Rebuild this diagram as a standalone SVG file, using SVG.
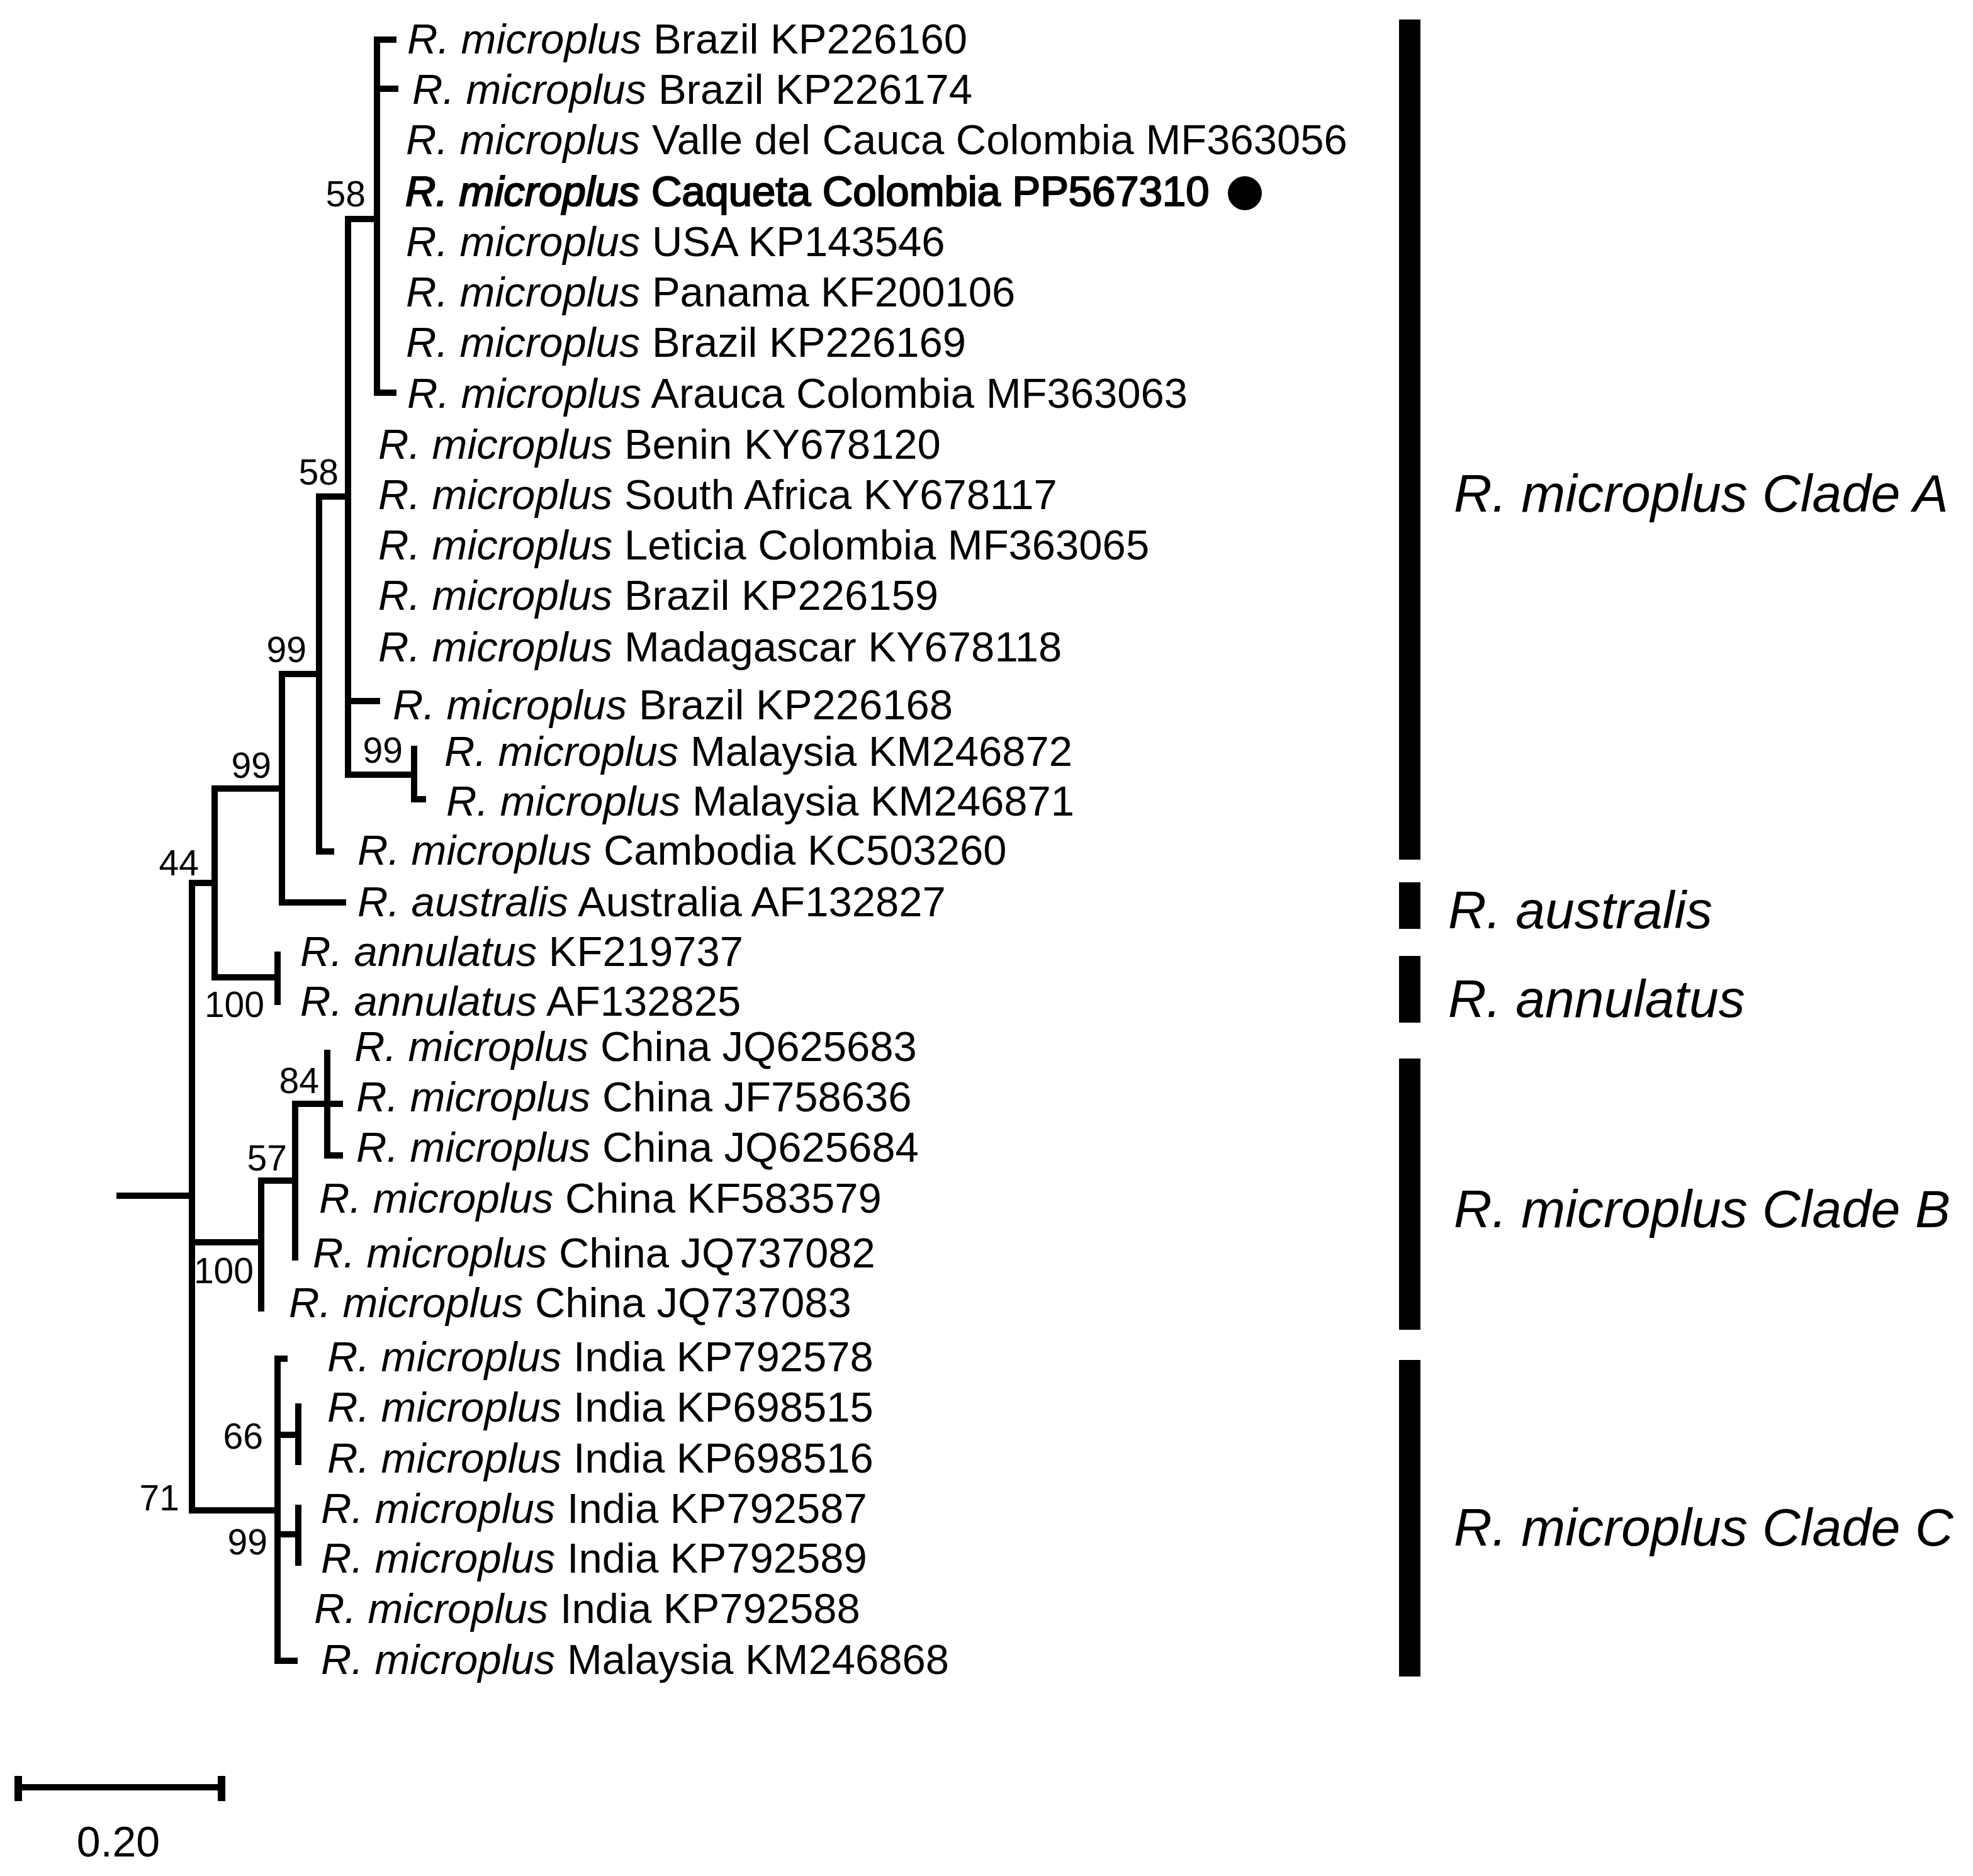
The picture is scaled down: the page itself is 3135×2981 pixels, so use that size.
<svg xmlns="http://www.w3.org/2000/svg" width="3135" height="2981" viewBox="0 0 3135 2981">
<style>
.br{stroke:#000;stroke-width:10;fill:none;stroke-linecap:square;stroke-linejoin:miter}
.leaf{font-family:"Liberation Sans",Arial,sans-serif;font-size:67px;fill:#000}
.sp{font-style:italic}
.bs{font-family:"Liberation Sans",Arial,sans-serif;font-size:57px;fill:#000;text-anchor:end}
.clade{font-family:"Liberation Sans",Arial,sans-serif;font-size:84px;font-style:italic;fill:#000}
.bar{fill:#000}
</style>
<rect width="3135" height="2981" fill="#fff"/>
<g id="connectors">
<path class="br" d="M599 63 V624 M599 63 H625 M599 141 H628 M599 624 H625"/>
<path class="br" d="M553 348 H599"/>
<path class="br" d="M553 348 V1231 M553 1114 H599 M553 1231 H656 M658 1190 V1270 H672"/>
<path class="br" d="M507 789 H553"/>
<path class="br" d="M507 789 V1353 H526"/>
<path class="br" d="M448 1071 H507"/>
<path class="br" d="M448 1071 V1434 H545"/>
<path class="br" d="M341 1253 H448"/>
<path class="br" d="M341 1253 V1553 H441"/>
<path class="br" d="M441 1517 V1592"/>
<path class="br" d="M305 1403 H341"/>
<path class="br" d="M305 1403 V2400"/>
<path class="br" d="M190 1900 H305"/>
<path class="br" d="M305 1974 H415"/>
<path class="br" d="M415 1878 V2079"/>
<path class="br" d="M415 1876 H469"/>
<path class="br" d="M469 1754 V1998"/>
<path class="br" d="M469 1754 H540"/>
<path class="br" d="M520 1673 V1836 H540"/>
<path class="br" d="M305 2400 H441"/>
<path class="br" d="M441 2159 V2639 H468 M441 2159 H452"/>
<path class="br" d="M441 2280 H474 M474 2235 V2323"/>
<path class="br" d="M441 2438 H474 M474 2396 V2483"/>
</g>
<g id="bootstrap">
<text class="bs" x="581" y="328">58</text>
<text class="bs" x="538" y="770">58</text>
<text class="bs" x="640" y="1212">99</text>
<text class="bs" x="487" y="1052">99</text>
<text class="bs" x="431" y="1236">99</text>
<text class="bs" x="316" y="1391">44</text>
<text class="bs" x="420" y="1616">100</text>
<text class="bs" x="507" y="1737">84</text>
<text class="bs" x="456" y="1860">57</text>
<text class="bs" x="403" y="2039">100</text>
<text class="bs" x="285" y="2400">71</text>
<text class="bs" x="418" y="2302">66</text>
<text class="bs" x="425" y="2470">99</text>
</g>
<g id="leaf1"><text class="leaf" x="647" y="85"><tspan class="sp">R. microplus</tspan> Brazil KP226160</text></g>
<g id="leaf2"><text class="leaf" x="655" y="165"><tspan class="sp">R. microplus</tspan> Brazil KP226174</text></g>
<g id="leaf3"><text class="leaf" x="645" y="245"><tspan class="sp">R. microplus</tspan> Valle del Cauca Colombia MF363056</text></g>
<g id="leaf4"><text class="leaf" x="644" y="327" stroke="#000" stroke-width="2.2"><tspan class="sp">R. microplus</tspan> Caqueta Colombia PP567310</text><circle cx="1978" cy="307" r="27" fill="#000"/></g>
<g id="leaf5"><text class="leaf" x="645" y="407"><tspan class="sp">R. microplus</tspan> USA KP143546</text></g>
<g id="leaf6"><text class="leaf" x="645" y="487"><tspan class="sp">R. microplus</tspan> Panama KF200106</text></g>
<g id="leaf7"><text class="leaf" x="645" y="567"><tspan class="sp">R. microplus</tspan> Brazil KP226169</text></g>
<g id="leaf8"><text class="leaf" x="647" y="648"><tspan class="sp">R. microplus</tspan> Arauca Colombia MF363063</text></g>
<g id="leaf9"><text class="leaf" x="601" y="729"><tspan class="sp">R. microplus</tspan> Benin KY678120</text></g>
<g id="leaf10"><text class="leaf" x="601" y="809"><tspan class="sp">R. microplus</tspan> South Africa KY678117</text></g>
<g id="leaf11"><text class="leaf" x="601" y="889"><tspan class="sp">R. microplus</tspan> Leticia Colombia MF363065</text></g>
<g id="leaf12"><text class="leaf" x="601" y="969"><tspan class="sp">R. microplus</tspan> Brazil KP226159</text></g>
<g id="leaf13"><text class="leaf" x="601" y="1051"><tspan class="sp">R. microplus</tspan> Madagascar KY678118</text></g>
<g id="leaf14"><text class="leaf" x="624" y="1143"><tspan class="sp">R. microplus</tspan> Brazil KP226168</text></g>
<g id="leaf15"><text class="leaf" x="706" y="1217"><tspan class="sp">R. microplus</tspan> Malaysia KM246872</text></g>
<g id="leaf16"><text class="leaf" x="709" y="1296"><tspan class="sp">R. microplus</tspan> Malaysia KM246871</text></g>
<g id="leaf17"><text class="leaf" x="568" y="1374"><tspan class="sp">R. microplus</tspan> Cambodia KC503260</text></g>
<g id="leaf18"><text class="leaf" x="568" y="1456"><tspan class="sp">R. australis</tspan> Australia AF132827</text></g>
<g id="leaf19"><text class="leaf" x="477" y="1535"><tspan class="sp">R. annulatus</tspan> KF219737</text></g>
<g id="leaf20"><text class="leaf" x="477" y="1614"><tspan class="sp">R. annulatus</tspan> AF132825</text></g>
<g id="leaf21"><text class="leaf" x="563" y="1686"><tspan class="sp">R. microplus</tspan> China JQ625683</text></g>
<g id="leaf22"><text class="leaf" x="566" y="1766"><tspan class="sp">R. microplus</tspan> China JF758636</text></g>
<g id="leaf23"><text class="leaf" x="566" y="1846"><tspan class="sp">R. microplus</tspan> China JQ625684</text></g>
<g id="leaf24"><text class="leaf" x="507" y="1927"><tspan class="sp">R. microplus</tspan> China KF583579</text></g>
<g id="leaf25"><text class="leaf" x="497" y="2014"><tspan class="sp">R. microplus</tspan> China JQ737082</text></g>
<g id="leaf26"><text class="leaf" x="459" y="2093"><tspan class="sp">R. microplus</tspan> China JQ737083</text></g>
<g id="leaf27"><text class="leaf" x="520" y="2179"><tspan class="sp">R. microplus</tspan> India KP792578</text></g>
<g id="leaf28"><text class="leaf" x="520" y="2259"><tspan class="sp">R. microplus</tspan> India KP698515</text></g>
<g id="leaf29"><text class="leaf" x="520" y="2340"><tspan class="sp">R. microplus</tspan> India KP698516</text></g>
<g id="leaf30"><text class="leaf" x="510" y="2420"><tspan class="sp">R. microplus</tspan> India KP792587</text></g>
<g id="leaf31"><text class="leaf" x="510" y="2499"><tspan class="sp">R. microplus</tspan> India KP792589</text></g>
<g id="leaf32"><text class="leaf" x="499" y="2579"><tspan class="sp">R. microplus</tspan> India KP792588</text></g>
<g id="leaf33"><text class="leaf" x="510" y="2660"><tspan class="sp">R. microplus</tspan> Malaysia KM246868</text></g>
<g id="cladeA"><rect class="bar" x="2223" y="31" width="34" height="1335"/><text class="clade" x="2310" y="813">R. microplus Clade A</text></g>
<g id="cladeAustralis"><rect class="bar" x="2223" y="1402" width="34" height="74"/><text class="clade" x="2301" y="1475">R. australis</text></g>
<g id="cladeAnnulatus"><rect class="bar" x="2223" y="1519" width="34" height="106"/><text class="clade" x="2301" y="1616">R. annulatus</text></g>
<g id="cladeB"><rect class="bar" x="2223" y="1682" width="34" height="431"/><text class="clade" x="2310" y="1950">R. microplus Clade B</text></g>
<g id="cladeC"><rect class="bar" x="2223" y="2161" width="34" height="503"/><text class="clade" x="2310" y="2456">R. microplus Clade C</text></g>
<g id="scalebar">
<path d="M28 2840 H353" stroke="#000" stroke-width="10" fill="none"/>
<path d="M29 2822 V2862 M352 2822 V2862" stroke="#000" stroke-width="12" fill="none"/>
<text x="188" y="2950" font-family="Liberation Sans, Arial, sans-serif" font-size="68" text-anchor="middle">0.20</text>
</g>
</svg>
